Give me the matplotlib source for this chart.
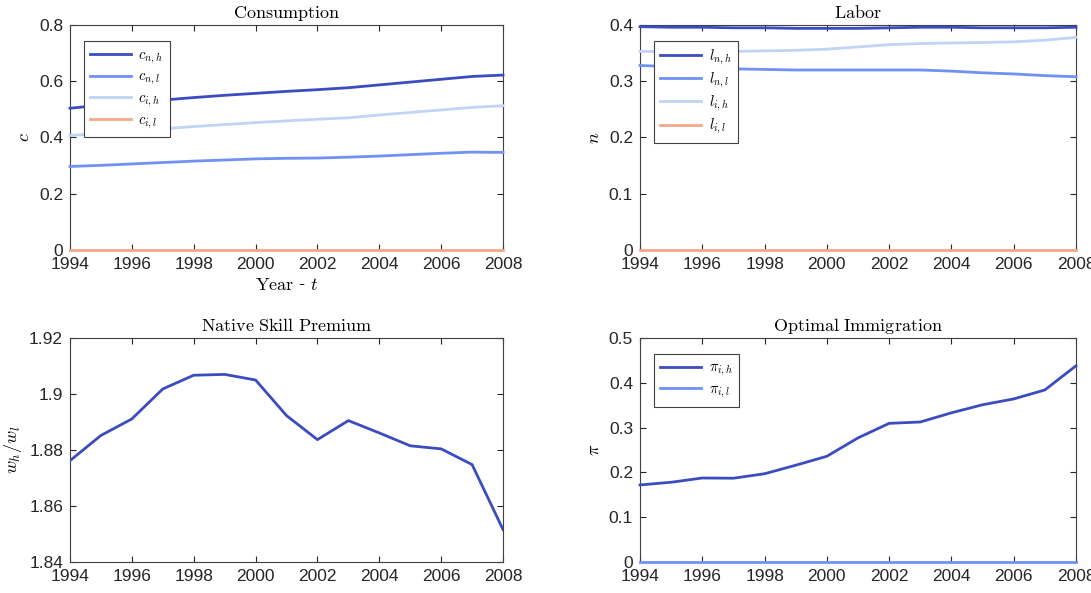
import matplotlib.pyplot as plt
import numpy as np

plt.rcParams['font.family'] = ['Liberation Sans', 'DejaVu Sans']
plt.rcParams['mathtext.fontset'] = 'cm'

years = np.arange(1994, 2009)

# consumption by group
c_nh = [0.504, 0.515, 0.525, 0.533, 0.542, 0.550, 0.557, 0.564, 0.570, 0.577, 0.587, 0.597, 0.607, 0.617, 0.622]
c_nl = [0.297, 0.301, 0.306, 0.311, 0.316, 0.320, 0.324, 0.326, 0.327, 0.330, 0.334, 0.339, 0.344, 0.348, 0.347]
c_ih = [0.407, 0.415, 0.423, 0.431, 0.439, 0.446, 0.453, 0.459, 0.465, 0.470, 0.480, 0.489, 0.498, 0.507, 0.513]
c_il = [0.0] * 15

# labor supply by group
l_nh = [0.397, 0.396, 0.396, 0.395, 0.395, 0.394, 0.394, 0.394, 0.395, 0.396, 0.396, 0.395, 0.395, 0.395, 0.396]
l_nl = [0.328, 0.326, 0.323, 0.322, 0.321, 0.320, 0.320, 0.320, 0.320, 0.320, 0.318, 0.315, 0.313, 0.310, 0.308]
l_ih = [0.353, 0.353, 0.353, 0.353, 0.354, 0.355, 0.357, 0.361, 0.365, 0.367, 0.368, 0.369, 0.370, 0.373, 0.378]
l_il = [0.0] * 15

# native skill premium w_h / w_l
premium = [1.8762, 1.8852, 1.8911, 1.9018, 1.9067, 1.9070, 1.9050, 1.8923, 1.8837, 1.8905,
           1.8861, 1.8815, 1.8804, 1.8748, 1.8516]

# optimal immigration shares
pi_ih = [0.172, 0.178, 0.1875, 0.187, 0.197, 0.216, 0.236, 0.277, 0.3095, 0.3125, 0.333, 0.351, 0.364, 0.384, 0.438]
pi_il = [0.0] * 15

colors = ['#3b4cc0', '#6f92f3', '#c0d4f5', '#f7a889']

fig = plt.figure(figsize=(10.91, 5.93), dpi=100)
ax1 = fig.add_axes([70/1091, 1-250/593, 433/1091, 225/593])
ax2 = fig.add_axes([640/1091, 1-250/593, 436/1091, 225/593])
ax3 = fig.add_axes([70/1091, 1-562/593, 433/1091, 224/593])
ax4 = fig.add_axes([640/1091, 1-562/593, 436/1091, 224/593])


def style(ax, title, ylabel):
    ax.set_xlim(1994, 2008)
    ax.set_xticks(np.arange(1994, 2009, 2))
    ax.tick_params(direction='in', top=True, right=True, length=4, width=0.8,
                   labelsize=12.5, colors='#262626')
    ax.tick_params(axis='x', pad=5)
    ax.tick_params(axis='y', pad=5)
    for s in ax.spines.values():
        s.set_color('#404040')
        s.set_linewidth(0.8)
    ax.set_title(title, fontsize=13, pad=5)
    ax.set_ylabel(ylabel, fontsize=13, labelpad=4)


def legend(ax, top):
    leg = ax.legend(loc='upper left', bbox_to_anchor=(0.015, top), fontsize=10.5,
                    fancybox=False, framealpha=1, edgecolor='#404040',
                    handlelength=2.8, handletextpad=0.5, borderpad=0.45, labelspacing=0.28)
    leg.get_frame().set_linewidth(0.8)


# Consumption
for y, col, lab in zip([c_nh, c_nl, c_ih, c_il], colors,
                       [r'$c_{n,h}$', r'$c_{n,l}$', r'$c_{i,h}$', r'$c_{i,l}$']):
    ax1.plot(years, y, color=col, lw=2, label=lab, clip_on=False, zorder=3)
ax1.set_ylim(0, 0.8)
ax1.set_yticks([0, 0.2, 0.4, 0.6, 0.8])
ax1.set_yticklabels(['0', '0.2', '0.4', '0.6', '0.8'])
style(ax1, r'$\mathrm{Consumption}$', r'$c$')
ax1.set_xlabel(r'$\mathrm{Year}$ - $t$', fontsize=13, labelpad=3, family='DejaVu Serif')
legend(ax1, 0.96)

# Labor
for y, col, lab in zip([l_nh, l_nl, l_ih, l_il], colors,
                       [r'$l_{n,h}$', r'$l_{n,l}$', r'$l_{i,h}$', r'$l_{i,l}$']):
    ax2.plot(years, y, color=col, lw=2, label=lab, clip_on=False, zorder=3)
ax2.set_ylim(0, 0.4)
ax2.set_yticks([0, 0.1, 0.2, 0.3, 0.4])
ax2.set_yticklabels(['0', '0.1', '0.2', '0.3', '0.4'])
style(ax2, r'$\mathrm{Labor}$', r'$n$')
legend(ax2, 0.96)

# Native skill premium
ax3.plot(years, premium, color=colors[0], lw=2, zorder=3)
ax3.set_ylim(1.84, 1.92)
ax3.set_yticks([1.84, 1.86, 1.88, 1.9, 1.92])
ax3.set_yticklabels(['1.84', '1.86', '1.88', '1.9', '1.92'])
style(ax3, r'$\mathrm{Native\ Skill\ Premium}$', r'$w_h/w_l$')

# Optimal immigration
ax4.plot(years, pi_ih, color=colors[0], lw=2, label=r'$\pi_{i,h}$', clip_on=False, zorder=3)
ax4.plot(years, pi_il, color=colors[1], lw=2, label=r'$\pi_{i,l}$', clip_on=False, zorder=3)
ax4.set_ylim(0, 0.5)
ax4.set_yticks([0, 0.1, 0.2, 0.3, 0.4, 0.5])
ax4.set_yticklabels(['0', '0.1', '0.2', '0.3', '0.4', '0.5'])
style(ax4, r'$\mathrm{Optimal\ Immigration}$', r'$\pi$')
legend(ax4, 0.96)

fig.savefig('out.png', dpi=100)
